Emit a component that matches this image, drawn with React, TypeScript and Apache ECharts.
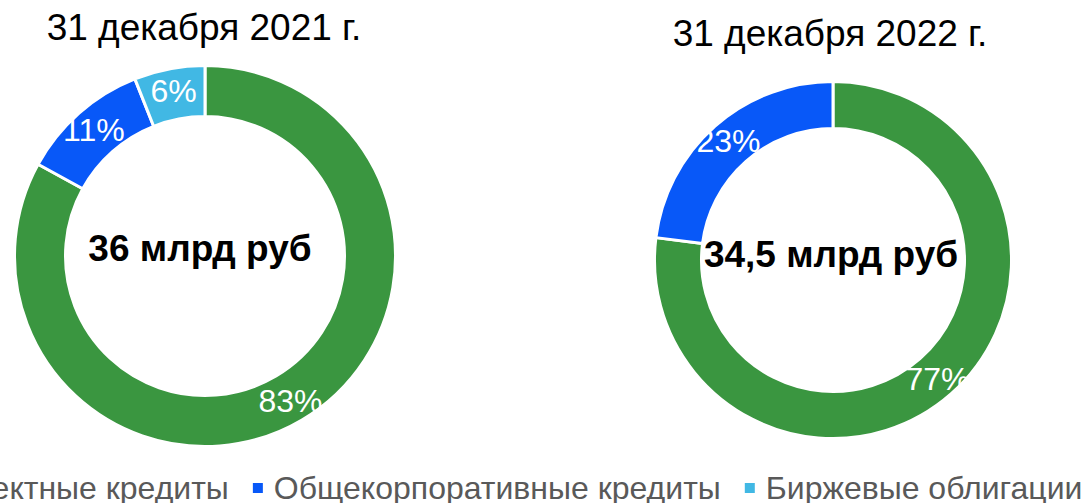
import React, { useEffect, useRef } from "react";
import * as echarts from "echarts";

const categories = ["Проектные кредиты", "Общекорпоративные кредиты", "Биржевые облигации"];
const colors = ["#3A9640", "#0858F8", "#41B8E4"];
const values2021 = [83, 11, 6];
const values2022 = [77, 23];
const titles = ["31 декабря 2021 г.", "31 декабря 2022 г."];
const totals = ["36 млрд руб", "34,5 млрд руб"];

const FONT = "'Liberation Sans', Arial, sans-serif";

export default function App() {
  const ref = useRef<HTMLDivElement>(null);
  useEffect(() => {
    document.body.style.margin = "0";
    const chart = echarts.init(ref.current!, undefined, { renderer: "svg" });
    const mk = (vals: number[]) =>
      vals.map((v, i) => ({ name: categories[i], value: v, itemStyle: { color: colors[i] } }));
    const pieBase = {
      type: "pie",
      startAngle: 90,
      clockwise: true,
      avoidLabelOverlap: false,
      itemStyle: { borderColor: "#ffffff", borderWidth: 3, borderRadius: 0 },
      label: {
        show: true,
        position: "inside",
        formatter: "{c}%",
        color: "#ffffff",
        fontSize: 32,
        fontFamily: FONT,
        fontWeight: "normal",
        textBorderWidth: 0,
      },
      labelLine: { show: false },
      emphasis: { disabled: true },
    };
    chart.setOption({
      animation: false,
      backgroundColor: "#ffffff",
      legend: {
        data: categories,
        left: -90,
        width: 1500,
        top: 470,
        padding: 0,
        orient: "horizontal",
        icon: "rect",
        itemWidth: 12,
        itemHeight: 12,
        itemGap: 22,
        textStyle: {
          color: "#595959",
          fontSize: 32,
          fontFamily: FONT,
          lineHeight: 36,
          padding: [0, 0, 0, 5],
        },
      },
      graphic: [
        {
          type: "text",
          x: 204,
          y: 27,
          style: { text: titles[0], font: `37px ${FONT}`, fill: "#000", textAlign: "center", textVerticalAlign: "middle" },
        },
        {
          type: "text",
          x: 830,
          y: 33,
          style: { text: titles[1], font: `37px ${FONT}`, fill: "#000", textAlign: "center", textVerticalAlign: "middle" },
        },
        {
          type: "text",
          x: 200,
          y: 248,
          style: { text: totals[0], font: `bold 37px ${FONT}`, fill: "#000", textAlign: "center", textVerticalAlign: "middle" },
        },
        {
          type: "text",
          x: 831,
          y: 254,
          style: { text: totals[1], font: `bold 37px ${FONT}`, fill: "#000", textAlign: "center", textVerticalAlign: "middle" },
        },
      ],
      series: [
        { ...pieBase, name: titles[0], center: [205, 256], radius: [139.5, 190.5], data: mk(values2021) },
        { ...pieBase, name: titles[1], center: [833, 260], radius: [131.5, 178.5], data: mk(values2022) },
      ],
    });
    return () => chart.dispose();
  }, []);
  return <div ref={ref} style={{ width: 1084, height: 503 }} />;
}
